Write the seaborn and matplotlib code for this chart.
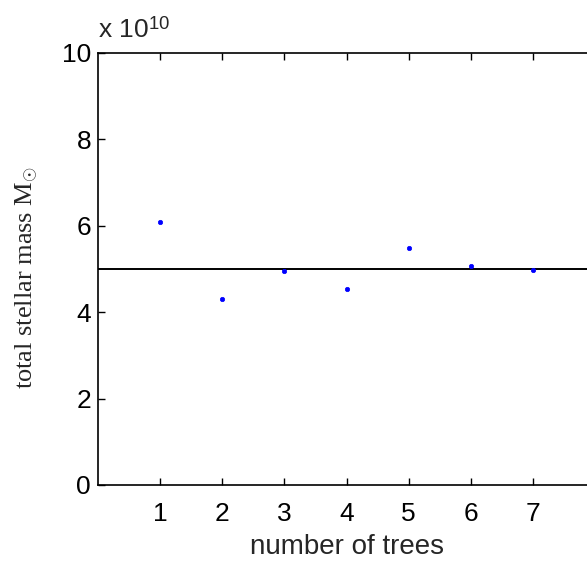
import matplotlib
matplotlib.use("Agg")
import matplotlib.pyplot as plt
import seaborn as sns
import numpy as np
import pandas as pd

# Total stellar mass obtained with different numbers of merger trees
n_trees = [1, 2, 3, 4, 5, 6, 7]
stellar_mass = [6.09e10, 4.30e10, 4.95e10, 4.54e10, 5.49e10, 5.08e10, 4.98e10]
reference_mass = 5.0e10
scale = 1e10
y_ticks = [0, 2, 4, 6, 8, 10]
x_ticks = [1, 2, 3, 4, 5, 6, 7]

sns.set_style("ticks")
plt.rcParams["font.family"] = ["Liberation Sans", "DejaVu Sans"]
plt.rcParams["mathtext.fontset"] = "custom"
plt.rcParams["mathtext.rm"] = "Liberation Serif"
plt.rcParams["mathtext.it"] = "Liberation Serif:italic"
plt.rcParams["mathtext.sf"] = "Liberation Sans"

df = pd.DataFrame({"trees": n_trees, "mass": np.array(stellar_mass) / scale})

fig = plt.figure(figsize=(5.87, 5.64), dpi=100)
ax = fig.add_axes([98 / 587, 79 / 564, 497 / 587, 432 / 564])

sns.scatterplot(data=df, x="trees", y="mass", ax=ax, color="blue",
                marker="o", s=10, edgecolor="blue", linewidth=0.5, zorder=3)
ax.axhline(reference_mass / scale, color="black", linewidth=1.4, zorder=2)

ax.set_xlim(0, 8)
ax.set_ylim(0, 10)
ax.set_xticks(x_ticks)
ax.set_yticks(y_ticks)
ax.tick_params(direction="in", length=5, width=1, labelsize=19,
               top=True, right=True, colors="black")
ax.tick_params(axis="x", pad=12)
ax.tick_params(axis="y", pad=5)
for side in ["top", "bottom", "left", "right"]:
    ax.spines[side].set_visible(True)
    ax.spines[side].set_linewidth(1.2)
    ax.spines[side].set_color("black")

ax.set_xlabel("number of trees", fontsize=20, labelpad=6)
ax.set_ylabel(r"total stellar mass $\mathrm{M}_{\odot}$", fontsize=19,
              family="Liberation Serif")
ax.yaxis.set_label_coords(-0.117, 0.48)
ax.text(0.0, 1.025, r"x 10$^{\mathsf{10}}$", transform=ax.transAxes, fontsize=19,
        ha="left", va="bottom")

fig.savefig("out.png", dpi=100)
